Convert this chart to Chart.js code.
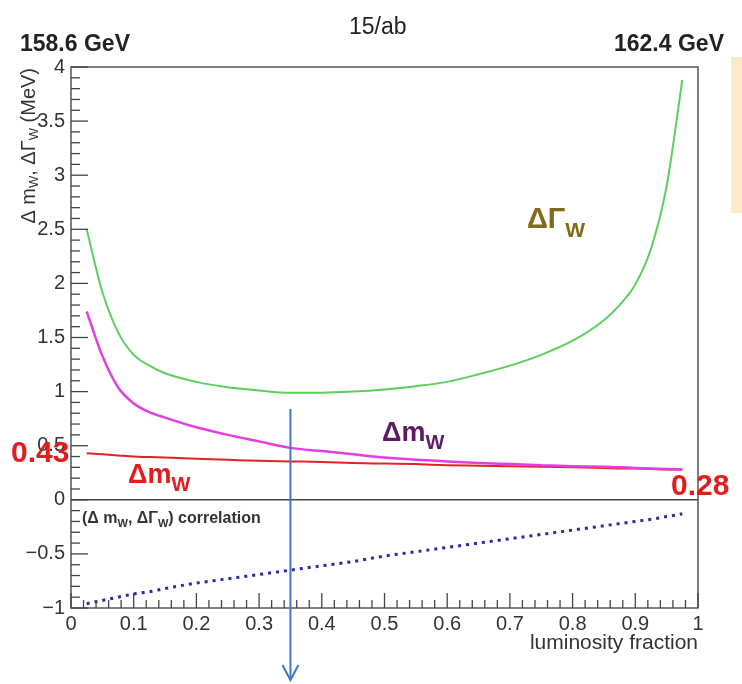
<!DOCTYPE html>
<html lang="en">
<head>
    <meta charset="UTF-8">
    <title>W mass and width vs luminosity fraction</title>
    <style>
        body { margin: 0; background: #fff; }
        canvas { display: block; }
    </style>
</head>
<body>
    <canvas id="chart" width="742" height="684"></canvas>

    <script src="https://cdn.jsdelivr.net/npm/chart.js@4/dist/chart.umd.min.js"></script>
    <script>
        // luminosity fraction at the lower energy point
        const lumiFraction = [0.025, 0.05, 0.075, 0.1, 0.125, 0.15, 0.2, 0.25, 0.3, 0.35, 0.4, 0.45, 0.5,
                              0.55, 0.6, 0.65, 0.7, 0.75, 0.8, 0.85, 0.875, 0.9, 0.925, 0.95, 0.975];

        // ΔΓ_W (MeV), green
        const deltaGammaW = [2.50, 1.92, 1.55, 1.34, 1.24, 1.17, 1.09, 1.04, 1.01, 0.99, 0.99, 1.00, 1.02,
                             1.05, 1.09, 1.16, 1.24, 1.34, 1.47, 1.66, 1.80, 1.99, 2.32, 2.90, 3.88];

        // Δm_W (MeV), magenta
        const deltaMassW = [1.74, 1.33, 1.04, 0.89, 0.81, 0.76, 0.67, 0.60, 0.54, 0.48, 0.45, 0.42, 0.39,
                            0.37, 0.355, 0.34, 0.33, 0.32, 0.31, 0.305, 0.30, 0.295, 0.29, 0.285, 0.28];

        // Δm_W (MeV), red
        const deltaMassWFixed = [0.43, 0.42, 0.41, 0.40, 0.395, 0.39, 0.38, 0.37, 0.36, 0.355, 0.35, 0.34, 0.335,
                                 0.33, 0.32, 0.315, 0.31, 0.305, 0.30, 0.295, 0.29, 0.29, 0.285, 0.28, 0.28];

        // (Δm_W, ΔΓ_W) correlation, blue dotted
        const correlation = [-0.96, -0.93, -0.90, -0.87, -0.85, -0.82, -0.77, -0.73, -0.69, -0.65, -0.61, -0.57, -0.52,
                             -0.48, -0.44, -0.40, -0.36, -0.32, -0.28, -0.24, -0.22, -0.20, -0.18, -0.155, -0.13];

        const chosenFraction = 0.35;
        const arrowTop = 0.84;

        const FONT = '"Liberation Sans", Arial, sans-serif';

        function toPoints(ys) {
            return lumiFraction.map((x, i) => ({ x: x, y: ys[i] }));
        }

        function seg(ctx, x1, y1, x2, y2) {
            ctx.beginPath();
            ctx.moveTo(x1, y1);
            ctx.lineTo(x2, y2);
            ctx.stroke();
        }

        // draws text pieces one after another, some as subscripts
        function richText(ctx, x, y, parts, weight) {
            let cx = x;
            parts.forEach(p => {
                ctx.font = `${weight} ${p.size}px ${FONT}`;
                ctx.fillText(p.t, cx, y + (p.dy || 0));
                cx += ctx.measureText(p.t).width;
            });
            return cx - x;
        }

        function richWidth(ctx, parts, weight) {
            let w = 0;
            parts.forEach(p => {
                ctx.font = `${weight} ${p.size}px ${FONT}`;
                w += ctx.measureText(p.t).width;
            });
            return w;
        }

        const decorations = {
            id: 'decorations',
            beforeDraw(chart) {
                const ctx = chart.ctx;
                ctx.save();
                ctx.fillStyle = '#fdebc8';
                ctx.fillRect(731, 57, 11, 156);
                ctx.restore();
            },
            afterDatasetsDraw(chart) {
                const { ctx, chartArea: a, scales: { x, y } } = chart;
                ctx.save();

                // frame and zero line
                ctx.strokeStyle = '#555';
                ctx.lineWidth = 1.5;
                ctx.strokeRect(a.left, a.top, a.right - a.left, a.bottom - a.top);
                const y0 = y.getPixelForValue(0);
                ctx.strokeStyle = '#444';
                seg(ctx, a.left, y0, a.right, y0);

                // inside ticks, ROOT style
                ctx.strokeStyle = '#444';
                ctx.lineWidth = 1.3;
                for (let i = -10; i <= 40; i++) {
                    const py = y.getPixelForValue(i / 10);
                    seg(ctx, a.left, py, a.left + (i % 5 === 0 ? 17 : 9), py);
                }
                for (let i = 0; i <= 50; i++) {
                    const px = x.getPixelForValue(i / 50);
                    seg(ctx, px, a.bottom, px, a.bottom - (i % 5 === 0 ? 15 : 8));
                }

                // arrow at the chosen fraction
                const ax = x.getPixelForValue(chosenFraction);
                const atop = y.getPixelForValue(arrowTop);
                const abot = y.getPixelForValue(-1) + 72;
                ctx.strokeStyle = '#4278c6';
                ctx.lineWidth = 2;
                seg(ctx, ax, atop, ax, abot);
                ctx.beginPath();
                ctx.moveTo(ax - 8, abot - 15);
                ctx.lineTo(ax, abot);
                ctx.lineTo(ax + 8, abot - 15);
                ctx.stroke();

                // y axis title
                ctx.save();
                ctx.fillStyle = '#333';
                ctx.textBaseline = 'middle';
                const titleParts = [
                    { t: 'Δ m', size: 20 }, { t: 'W', size: 13, dy: 5 },
                    { t: ', ΔΓ', size: 20 }, { t: 'W', size: 13, dy: 5 },
                    { t: ' (MeV)', size: 20 }
                ];
                const tw = richWidth(ctx, titleParts, 'normal');
                ctx.translate(29, 68);
                ctx.rotate(-Math.PI / 2);
                richText(ctx, -tw, 0, titleParts, 'normal');
                ctx.restore();

                // x axis title
                ctx.fillStyle = '#333';
                ctx.textBaseline = 'alphabetic';
                ctx.textAlign = 'right';
                ctx.font = `21px ${FONT}`;
                ctx.fillText('luminosity fraction', a.right, 649);
                ctx.textAlign = 'left';

                // header
                ctx.font = `bold 23px ${FONT}`;
                ctx.fillStyle = '#222';
                ctx.fillText('158.6 GeV', 20, 51);
                ctx.fillText('162.4 GeV', 614, 51);
                ctx.font = `23px ${FONT}`;
                ctx.fillText('15/ab', 349, 34);

                // correlation caption
                ctx.fillStyle = '#333';
                richText(ctx, 82, 523, [
                    { t: '(Δ m', size: 16 }, { t: 'W', size: 11, dy: 4 },
                    { t: ', ΔΓ', size: 16 }, { t: 'W', size: 11, dy: 4 },
                    { t: ') correlation', size: 16 }
                ], 'bold');

                // curve labels
                ctx.fillStyle = '#83691b';
                richText(ctx, 527, 228, [{ t: 'ΔΓ', size: 29 }, { t: 'W', size: 21, dy: 9 }], 'bold');
                ctx.fillStyle = '#5e1a62';
                richText(ctx, 382, 441, [{ t: 'Δm', size: 27 }, { t: 'W', size: 20, dy: 8 }], 'bold');
                ctx.fillStyle = '#e31d1d';
                richText(ctx, 128, 483, [{ t: 'Δm', size: 27 }, { t: 'W', size: 20, dy: 8 }], 'bold');

                // end values of the red curve
                ctx.font = `bold 30px ${FONT}`;
                ctx.fillText(deltaMassWFixed[0].toFixed(2), 11, 462);
                ctx.fillText(deltaMassWFixed[deltaMassWFixed.length - 1].toFixed(2), 671, 495);

                ctx.restore();
            }
        };

        const lineStyle = {
            fill: false,
            pointRadius: 0,
            cubicInterpolationMode: 'monotone'
        };

        new Chart(document.getElementById('chart'), {
            type: 'line',
            data: {
                datasets: [
                    Object.assign({ label: 'ΔΓW', data: toPoints(deltaGammaW), borderColor: '#5ccf5c', borderWidth: 2 }, lineStyle),
                    Object.assign({ label: 'ΔmW', data: toPoints(deltaMassW), borderColor: '#e23ee2', borderWidth: 2.5 }, lineStyle),
                    Object.assign({ label: 'ΔmW fixed', data: toPoints(deltaMassWFixed), borderColor: '#e02424', borderWidth: 2 }, lineStyle),
                    Object.assign({ label: 'correlation', data: toPoints(correlation), borderColor: '#2b2b9e', borderWidth: 3, borderDash: [3, 5] }, lineStyle)
                ]
            },
            options: {
                responsive: false,
                devicePixelRatio: 1,
                animation: false,
                layout: { padding: { top: 67, right: 44, left: 0, bottom: 0 } },
                plugins: {
                    legend: { display: false },
                    tooltip: { enabled: false }
                },
                scales: {
                    x: {
                        type: 'linear',
                        min: 0,
                        max: 1,
                        grid: { display: false, drawTicks: false },
                        border: { display: false },
                        ticks: {
                            stepSize: 0.1,
                            autoSkip: false,
                            maxRotation: 0,
                            padding: 4,
                            color: '#333',
                            font: { family: FONT, size: 20 },
                            callback: v => String(Number(v.toFixed(1)))
                        },
                        afterFit: s => { s.height = 76; }
                    },
                    y: {
                        min: -1,
                        max: 4,
                        grid: { display: false, drawTicks: false },
                        border: { display: false },
                        ticks: {
                            stepSize: 0.5,
                            padding: 6,
                            color: '#333',
                            font: { family: FONT, size: 20 },
                            callback: v => {
                                const s = String(Number(v.toFixed(1)));
                                return v < 0 ? '\u2212' + s.slice(1) : s;
                            }
                        },
                        afterFit: s => { s.width = 71; }
                    }
                }
            },
            plugins: [decorations]
        });
    </script>
</body>
</html>
